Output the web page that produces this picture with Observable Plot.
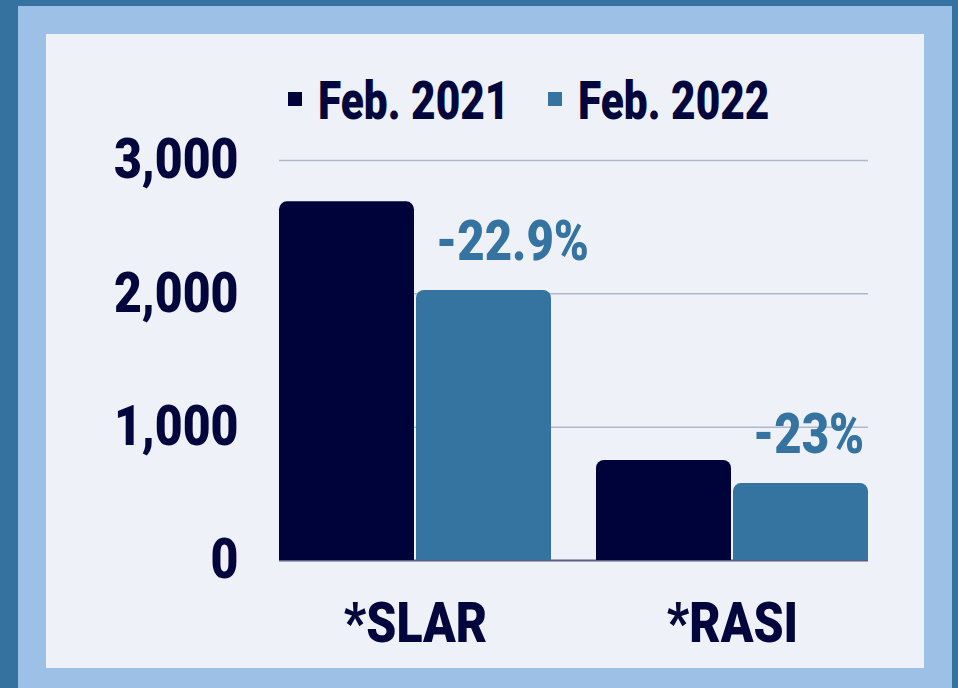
<!DOCTYPE html>
<html>
<head>
<meta charset="utf-8">
<script src="https://cdn.jsdelivr.net/npm/d3@7"></script>
<script src="https://cdn.jsdelivr.net/npm/@observablehq/plot@0.6"></script>
<style>
  html, body { margin: 0; padding: 0; }
  body { width: 958px; height: 688px; overflow: hidden; font-family: Roboto, "Noto Sans", sans-serif; }
  #outer { position: absolute; left: 0; top: 0; width: 958px; height: 688px; background: #3672a0; }
  #light { position: absolute; left: 18px; top: 6px; width: 934px; height: 682px; background: #9dc1e6; }
  #panel { position: absolute; left: 46px; top: 34px; width: 878px; height: 634px; background: #eef2f8; }
  #chart { position: absolute; left: 0; top: 0; }
  .sw { position: absolute; width: 14px; height: 14px; top: 92px; }
  .lt { position: absolute; top: 75px; font-size: 53px; line-height: 53px; font-weight: 900; color: #03053d; white-space: nowrap; transform: scaleX(0.8); transform-origin: left center; }
</style>
</head>
<body>
<div id="outer"></div>
<div id="light"></div>
<div id="panel"></div>
<div id="legend"></div>
<div id="chart"></div>
<script>
const categories = ["*SLAR", "*RASI"];
const series = ["Feb. 2021", "Feb. 2022"];
const valuesFeb2021 = [2690, 750];
const valuesFeb2022 = [2025, 577];
const changeLabels = ["-22.9%", "-23%"];
const yTicks = [0, 1000, 2000, 3000];
const colors = ["#00033a", "#3574a0"];

const data = [];
categories.forEach((c, i) => {
  data.push({category: c, series: series[0], value: valuesFeb2021[i]});
  data.push({category: c, series: series[1], value: valuesFeb2022[i]});
});
const changes = categories.map((c, i) => ({category: c, series: series[1], value: valuesFeb2022[i], label: changeLabels[i]}));
const gridFirst = yTicks.filter(d => d > 0).map(v => ({category: categories[0], value: v}));
const gridRest = yTicks.filter(d => d > 0).flatMap(v => categories.slice(1).map(c => ({category: c, value: v})));
const baseFirst = [{category: categories[0], value: 0}];
const baseRest = categories.slice(1).map(c => ({category: c, value: 0}));

// legend
const legend = document.getElementById("legend");
const legLeft = [288, 548];
series.forEach((s, i) => {
  const sw = document.createElement("div");
  sw.className = "sw";
  sw.style.left = legLeft[i] + "px";
  sw.style.background = colors[i];
  legend.appendChild(sw);
  const t = document.createElement("div");
  t.className = "lt";
  t.style.left = (legLeft[i] + 30) + "px";
  t.textContent = s;
  legend.appendChild(t);
});

const gap = 45;
const chart = Plot.plot({
  width: 958,
  height: 688,
  marginLeft: 278,
  marginRight: 90,
  marginTop: 160,
  marginBottom: 128,
  style: {background: "transparent", fontFamily: "Roboto, sans-serif", color: "#03053d"},
  fx: {domain: categories, paddingInner: 0.142, paddingOuter: 0, label: null},
  x: {domain: series, paddingInner: 0.015, paddingOuter: 0, axis: null},
  y: {domain: [0, 3000], label: null},
  color: {domain: series, range: colors},
  marks: [
    Plot.ruleY(gridFirst, {fx: "category", y: "value", stroke: "#b2b6cc", strokeWidth: 1.5, insetRight: -gap}),
    Plot.ruleY(gridRest, {fx: "category", y: "value", stroke: "#b2b6cc", strokeWidth: 1.5}),
    Plot.ruleY(baseFirst, {fx: "category", y: "value", stroke: "#5a5d82", strokeWidth: 2, insetRight: -gap}),
    Plot.ruleY(baseRest, {fx: "category", y: "value", stroke: "#5a5d82", strokeWidth: 2}),
    Plot.barY(data, {fx: "category", x: "series", y: "value", fill: "series", rx: 8}),
    Plot.rectY(data, {fx: "category", x: "series", y1: 0, y2: d => Math.min(d.value, 100), fill: "series"}),
    Plot.text(changes, {fx: "category", x: "series", y: "value", text: "label", textAnchor: "start", lineAnchor: "bottom", dx: -48, dy: -31, fill: "#3574a0", fontSize: 55, fontWeight: 900}),
    Plot.axisY({ticks: yTicks, tickFormat: d3.format(","), tickSize: 0, tickPadding: 41, fontSize: 56, fontWeight: 900, fill: "#03053d", label: null}),
    Plot.axisFx({anchor: "bottom", tickSize: 0, tickPadding: 42, fontSize: 56, fontWeight: 900, fill: "#03053d", label: null})
  ]
});
document.getElementById("chart").appendChild(chart);
chart.querySelectorAll("text").forEach(el => {
  const w = el.getComputedTextLength();
  if (w > 0) {
    el.setAttribute("textLength", (w * 0.86).toFixed(1));
    el.setAttribute("lengthAdjust", "spacingAndGlyphs");
  }
});
</script>
</body>
</html>
